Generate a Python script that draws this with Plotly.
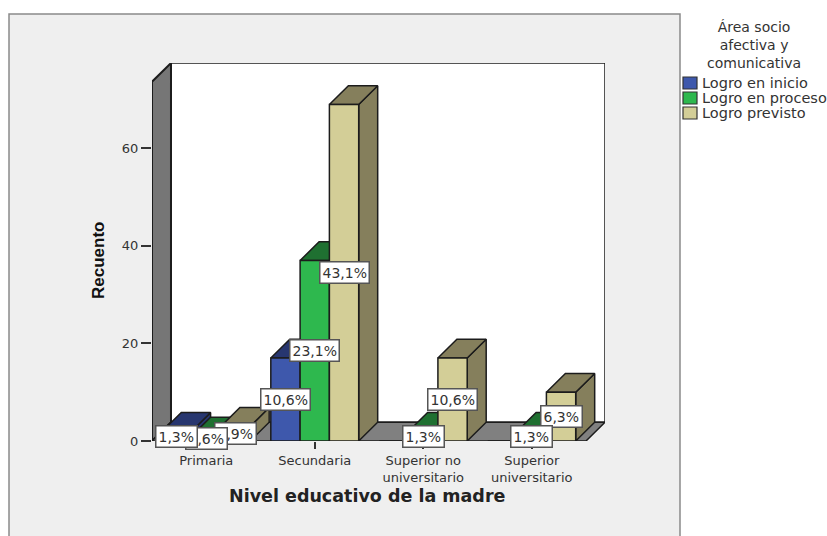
import plotly.graph_objects as go

categories = ["Primaria", "Secundaria", "Superior no<br>universitario", "Superior<br>universitario"]
series_names = ["Logro en inicio", "Logro en proceso", "Logro previsto"]
inicio = [2, 17, 0, 0]
proceso = [1, 37, 2, 2]
previsto = [3, 69, 17, 10]
inicio_pct = ["1,3%", "10,6%", "", ""]
proceso_pct = ["0,6%", "23,1%", "1,3%", "1,3%"]
previsto_pct = ["1,9%", "43,1%", "10,6%", "6,3%"]
y_ticks = [0, 20, 40, 60]

front = ["#3E58AC", "#2EB84E", "#D3CE97"]
dark = ["#27366F", "#1F7031", "#857F5C"]
EDGE = "#1c1c1c"
TXT = "#333333"
FONT = "DejaVu Sans"

values = [inicio, proceso, previsto]
pcts = [inicio_pct, proceso_pct, previsto_pct]

W, H = 827, 536
L, R, T, B = 152, 605, 63, 441
xmin, xmax = -0.5, 3.675
ymin, ymax = 0, 77.5
dx, dy = 0.175, 3.85
bw = 0.27


def px(p):
    return (p - L) / (R - L)


def py(p):
    return (B - p) / (B - T)


def poly(xs, ys, fill, lw=1.5):
    return go.Scatter(x=xs + xs[:1], y=ys + ys[:1], mode="lines", fill="toself", fillcolor=fill,
                      line=dict(color=EDGE, width=lw), hoverinfo="skip", showlegend=False,
                      xaxis="x", yaxis="y")


fig = go.Figure()
# walls and floor
fig.add_trace(poly([xmin + dx, 3.5 + dx, 3.5 + dx, xmin + dx], [dy, dy, ymax, ymax], "#FFFFFF"))
fig.add_trace(poly([xmin, xmin + dx, xmin + dx, xmin], [0, dy, ymax, ymax - dy], "#767676", 2))
fig.add_trace(poly([xmin, xmin + dx, 3.5 + dx, 3.5], [0, dy, dy, 0], "#808080"))

# depth faces, left to right
for c in range(len(categories)):
    for s in range(3):
        v = values[s][c]
        if v == 0:
            continue
        x0 = c + (s - 1.5) * bw
        x1 = x0 + bw
        fig.add_trace(poly([x1, x1 + dx, x1 + dx, x1], [0, dy, v + dy, v], dark[s]))
        fig.add_trace(poly([x0, x1, x1 + dx, x0 + dx], [v, v, v + dy, v + dy], dark[s]))

# front faces
xcat = list(range(len(categories)))
for s in range(3):
    fig.add_trace(go.Bar(x=xcat, y=values[s], name=series_names[s], marker=dict(color=front[s], line=dict(color=EDGE, width=1.5)),
                         xaxis="x2", yaxis="y2", showlegend=False))

ann = []
for s in (2, 1, 0):
    for c in xcat:
        if values[s][c] == 0:
            continue
        ann.append(dict(x=c + (s - 1) * bw, y=values[s][c] / 2, xref="x", yref="y", text=pcts[s][c], showarrow=False,
                        xanchor="center", yanchor="middle",
                        bgcolor="#FFFFFF", bordercolor="#555555", borderwidth=1.5, borderpad=2,
                        font=dict(family=FONT, size=14, color=TXT)))

# legend block
ann.append(dict(x=px(754), y=py(45), xref="paper", yref="paper", text="Área socio<br>afectiva y<br>comunicativa",
                showarrow=False, align="center", xanchor="center", yanchor="middle",
                font=dict(family=FONT, size=14, color=TXT)))
shapes = [dict(type="rect", xref="paper", yref="paper", x0=px(9), x1=px(680), y0=py(14), y1=py(560), layer="below",
               fillcolor="#EFEFEF", line=dict(color="#8A8A8A", width=1.5))]
for name, col, top in zip(series_names, front, (77, 92, 107)):
    shapes.append(dict(type="rect", xref="paper", yref="paper", x0=px(683), x1=px(697), y0=py(top), y1=py(top + 12),
                       fillcolor=col, line=dict(color="#333333", width=1.2)))
    ann.append(dict(x=px(700), y=py(top + 6), xref="paper", yref="paper", text=name, showarrow=False,
                    xanchor="left", yanchor="middle", font=dict(family=FONT, size=14.5, color=TXT)))

ann.append(dict(x=px(98), y=py(261), xref="paper", yref="paper", text="<b>Recuento</b>", textangle=-90, showarrow=False,
                xanchor="center", yanchor="middle", font=dict(family="Liberation Sans", size=17, color="#111111")))
ann.append(dict(x=px(367), y=py(496), xref="paper", yref="paper", text="<b>Nivel educativo de la madre</b>", showarrow=False,
                xanchor="center", yanchor="middle", font=dict(family=FONT, size=17.5, color="#222222")))

fig.update_layout(
    width=W, height=H, autosize=False,
    margin=dict(l=L, r=W - R, t=T, b=H - B, pad=0),
    paper_bgcolor="#FFFFFF", plot_bgcolor="rgba(0,0,0,0)",
    barmode="group", bargap=0.19, bargroupgap=0, showlegend=False,
    shapes=shapes, annotations=ann,
    xaxis=dict(range=[xmin, xmax], tickmode="array", tickvals=xcat, ticktext=categories, ticks="outside", ticklen=7,
               tickcolor="#333333", tickwidth=1.5, showgrid=False, zeroline=False, showline=False,
               tickangle=0, tickfont=dict(family=FONT, size=13, color=TXT)),
    yaxis=dict(range=[ymin, ymax], tickmode="array", tickvals=y_ticks, ticks="outside", ticklen=10,
               tickcolor="#333333", tickwidth=1.5, showgrid=False, zeroline=False, showline=False,
               tickfont=dict(family=FONT, size=13, color=TXT)),
    xaxis2=dict(range=[xmin, xmax], overlaying="x", visible=False),
    yaxis2=dict(range=[ymin, ymax], overlaying="y", visible=False),
)

fig.write_html("out.html", config={"displayModeBar": False},
               post_script="document.body.style.margin='0';document.body.style.overflow='hidden';")
